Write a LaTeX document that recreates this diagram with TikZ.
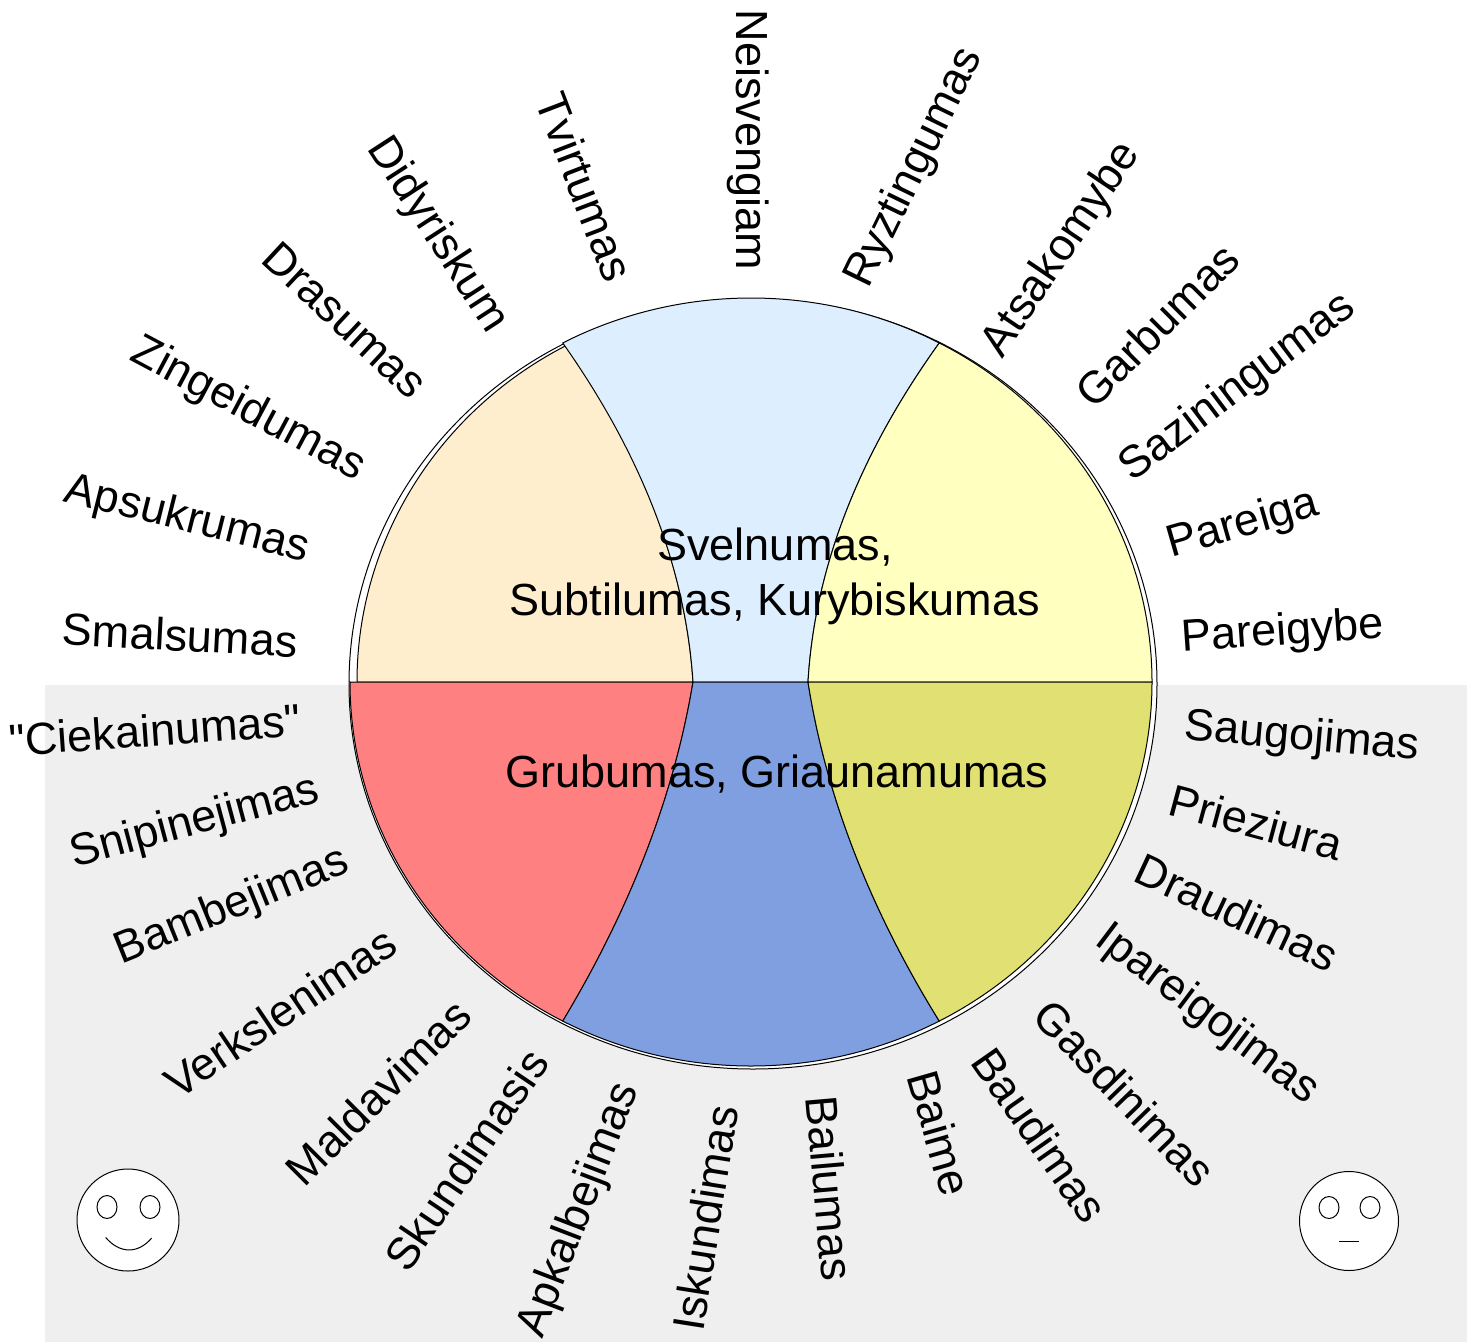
\documentclass[tikz,border=0pt]{standalone}
\usepackage{fontspec}
\setmainfont{Liberation Sans}
\usepackage{tikz}
\definecolor{softbeige}{HTML}{FFEECE}
\definecolor{softblue}{HTML}{DDEEFF}
\definecolor{softyellow}{HTML}{FFFFC0}
\definecolor{softred}{HTML}{FF8080}
\definecolor{midblue}{HTML}{7F9FE0}
\definecolor{midolive}{HTML}{E0E073}
\definecolor{bggray}{HTML}{EFEFEF}
\tikzset{
    word/.style={
           font=\fontsize{45}{55}\selectfont,
           inner sep=0pt,
           },
    center/.style={
           font=\fontsize{45}{55}\selectfont,
           align=center,
           inner sep=0pt,
           },
    sector/.style={
           draw=black, line width=1pt,
           },
    face/.style={
           draw=black, line width=1pt,
           fill=white,
           },
}

\begin{document}
\begin{tikzpicture}[x=1pt, y=-1pt]
	\useasboundingbox (0,0) rectangle (1473,1342);
	\fill[bggray] (45,685) rectangle (1467,1342);
	
	% wheel
	\draw[face] (753,684) ellipse [x radius=404, y radius=385];
	
	\coordinate (L)  at (350,682);
	\coordinate (R)  at (1152,682);
	\coordinate (ML) at (693,682);
	\coordinate (MR) at (808,682);
	\coordinate (TL) at (562.74,342.95);
	\coordinate (TR) at (939.26,342.95);
	\coordinate (BL) at (562.74,1021.05);
	\coordinate (BR) at (939.26,1021.05);
	
	\draw[sector, fill=softbeige] (ML) -- (357,682)
		arc[start angle=180, end angle=242, x radius=394, y radius=381]
		.. controls (642.2,455.7) and (685.7,568.7) .. (ML) -- cycle;
	\draw[sector, fill=softblue] (TL)
		arc[start angle=242, end angle=298, x radius=401, y radius=384]
		.. controls (858.3,455.7) and (814.7,568.7) .. (MR) -- (ML)
		.. controls (685.7,568.7) and (642.2,455.7) .. (TL) -- cycle;
	\draw[sector, fill=softyellow] (MR)
		.. controls (814.7,568.7) and (858.3,455.7) .. (TR)
		arc[start angle=298, end angle=360, x radius=401, y radius=384] -- cycle;
	
	\draw[sector, fill=softred] (L) -- (ML)
		.. controls (674.3,794.7) and (630.9,907.7) .. (BL)
		arc[start angle=118, end angle=180, x radius=401, y radius=384] -- cycle;
	\draw[sector, fill=midblue] (ML) -- (MR)
		.. controls (825.7,794.7) and (869.1,907.7) .. (BR)
		arc[start angle=62, end angle=118, x radius=401, y radius=384]
		.. controls (630.9,907.7) and (674.3,794.7) .. (ML) -- cycle;
	\draw[sector, fill=midolive] (MR) -- (R)
		arc[start angle=0, end angle=62, x radius=401, y radius=384]
		.. controls (869.1,907.7) and (825.7,794.7) .. (MR) -- cycle;
	
	\node[center] (soft) at (775,576) {Svelnumas,\\Subtilumas, Kurybiskumas};
	\node[center] (rough) at (777,774) {Grubumas, Griaunamumas};
	
	% upper words
	\node[word, rotate=-3]  (smal) at (180,635) {Smalsumas};
	\node[word, rotate=-14] (apsu) at (187,520) {Apsukrumas};
	\node[word, rotate=-28] (zing) at (248,410) {Zingeidumas};
	\node[word, rotate=-43] (dras) at (345,320) {Drasumas};
	\node[word, rotate=-57] (didy) at (437,235) {Didyriskum};
	\node[word, rotate=-69] (tvir) at (585,187) {Tvirtumas};
	\node[word, rotate=-90] (neis) at (748,140) {Neisvengiam};
	\node[word, rotate=64]  (ryzt) at (915,168) {Ryztingumas};
	\node[word, rotate=56]  (atsa) at (1062,250) {Atsakomybe};
	\node[word, rotate=45]  (garb) at (1157,325) {Garbumas};
	\node[word, rotate=37]  (sazi) at (1238,388) {Saziningumas};
	\node[word, rotate=16]  (pare) at (1243,525) {Pareiga};
	\node[word, rotate=4]   (pyb)  at (1283,633) {Pareigybe};
	
	% lower words
	\node[word, rotate=4]   (ciek) at (155,730) {\textquotedbl Ciekainumas\textquotedbl};
	\node[word, rotate=15]  (snip) at (195,823) {Snipinejimas};
	\node[word, rotate=22]  (bamb) at (232,907) {Bambejimas};
	\node[word, rotate=34]  (verk) at (280,1012) {Verkslenimas};
	\node[word, rotate=45]  (mald) at (378,1092) {Maldavimas};
	\node[word, rotate=56]  (skun) at (466,1160) {Skundimasis};
	\node[word, rotate=69]  (apka) at (580,1210) {Apkalbejimas};
	\node[word, rotate=81]  (isku) at (705,1218) {Iskundimas};
	\node[word, rotate=-85] (bail) at (830,1188) {Bailumas};
	\node[word, rotate=-74] (baim) at (940,1133) {Baime};
	\node[word, rotate=-55] (baud) at (1040,1135) {Baudimas};
	\node[word, rotate=-46] (gasd) at (1125,1093) {Gasdinimas};
	\node[word, rotate=-37] (ipar) at (1207,1015) {Ipareigojimas};
	\node[word, rotate=-25] (drau) at (1237,912) {Draudimas};
	\node[word, rotate=-15] (prie) at (1256,822) {Prieziura};
	\node[word, rotate=-5]  (saug) at (1302,738) {Saugojimas};
	
	% faces
	\draw[face] (128,1220) circle [radius=51];
	\draw[face] (107,1207) ellipse [x radius=10, y radius=11.5];
	\draw[face] (150,1207) ellipse [x radius=10, y radius=11.5];
	\draw[line width=1pt] (105.7,1237.5) .. controls (120,1254) and (138,1254) .. (151.7,1238);
	
	\draw[face] (1349,1221) circle [radius=49.5];
	\draw[face] (1329,1207.5) ellipse [x radius=10, y radius=11];
	\draw[face] (1370,1207.5) ellipse [x radius=10, y radius=11];
	\draw[line width=1pt] (1339.3,1241) -- (1359.3,1241);
\end{tikzpicture}
\end{document}
